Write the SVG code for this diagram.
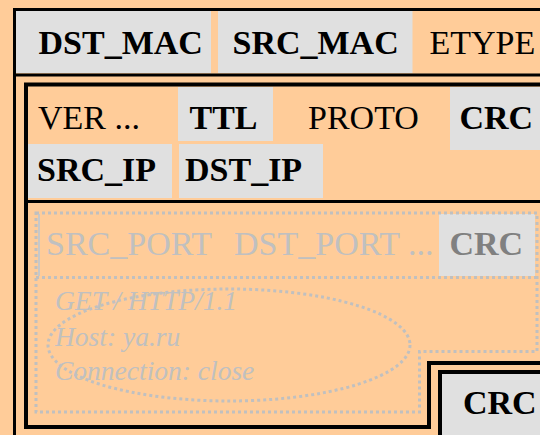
<svg xmlns="http://www.w3.org/2000/svg" width="540" height="435" viewBox="0 0 540 435">
<style>
text{font-family:"Liberation Serif","Times New Roman",serif;font-size:34px;fill:#000}
.b{font-weight:bold}
.cell{fill:#e0e0e0}
.frame{fill:none;stroke:#000}
.dim{fill:#c0c0c0}
.it{font-style:italic;font-size:27.5px;fill:#c0c0c0}
.dot{fill:none;stroke:#c0c0c0;stroke-width:3;stroke-dasharray:3 3}
</style>
<rect width="540" height="435" fill="#ffcc99"/>
<g id="ethernet">
<rect class="cell" x="16" y="11" width="195" height="62"/>
<text class="b" x="38.5" y="54">DST_MAC</text>
<rect class="cell" x="218" y="11" width="194.5" height="62"/>
<text class="b" x="232.5" y="54">SRC_MAC</text>
<text x="429.5" y="54">ETYPE</text>
<path class="frame" stroke-width="3" d="M540 9.5H14.5V435"/>
<line class="frame" stroke-width="3" x1="13" y1="75" x2="540" y2="75"/>
</g>
<g id="ip">
<text x="38" y="129">VER ...</text>
<rect class="cell" x="178" y="87" width="95" height="54"/>
<text class="b" x="189.5" y="129">TTL</text>
<text x="308" y="129">PROTO</text>
<rect class="cell" x="450" y="87" width="90" height="63"/>
<text class="b" x="459.5" y="129">CRC</text>
<rect class="cell" x="28" y="144" width="144" height="54"/>
<text class="b" x="37" y="181">SRC_IP</text>
<rect class="cell" x="179" y="144" width="144" height="54"/>
<text class="b" x="185" y="181">DST_IP</text>
<path class="frame" stroke-width="4" d="M540 84.5H26V427H429V363H540"/>
<line class="frame" stroke-width="3" x1="26" y1="201.5" x2="540" y2="201.5"/>
</g>
<g id="tcp">
<line x1="39" y1="214" x2="39" y2="276" stroke="#c8c8c8" stroke-width="2"/>
<rect class="cell" x="439" y="214" width="96" height="62"/>
<text class="dim" x="46" y="255">SRC_PORT</text>
<text class="dim" x="234" y="255">DST_PORT ...</text>
<text class="b" x="449.5" y="255" style="fill:#808080">CRC</text>
<path class="dot" d="M36 213H537V351.5H419.5V412H36Z"/>
<line class="dot" x1="36" y1="277.5" x2="537" y2="277.5"/>
</g>
<g id="http">
<ellipse class="dot" cx="229" cy="345" rx="181" ry="56"/>
<text class="it" x="55" y="310">GET / HTTP/1.1</text>
<text class="it" x="55" y="346">Host: ya.ru</text>
<text class="it" x="55" y="380">Connection: close</text>
</g>
<g id="eth-crc">
<rect class="cell" x="442" y="374" width="98" height="61"/>
<path class="frame" stroke-width="4" d="M440 435V372H540"/>
<text class="b" x="463" y="414">CRC</text>
</g>
<g id="connectors"/>
</svg>
